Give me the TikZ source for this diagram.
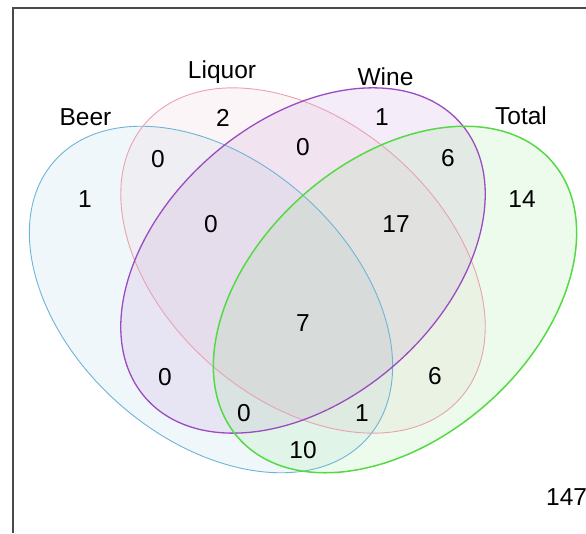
\documentclass[tikz,border=0pt]{standalone}
\usepackage{fontspec}
\setmainfont{Liberation Sans}
\definecolor{beerc}{HTML}{6FB4D6}
\definecolor{liqc}{HTML}{E8A3B2}
\definecolor{winec}{HTML}{9A4CC0}
\definecolor{totc}{HTML}{55DA45}
\definecolor{framec}{HTML}{4A4A4A}
\tikzset{
  venntext/.style={inner sep=0pt, font=\fontsize{24.5}{29}\selectfont, text=black},
  setlabel/.style={venntext, anchor=base},
  fillset/.style={fill=#1, fill opacity=0.1, draw=none},
  lineset/.style={draw=#1, line width=1.1pt},
  frameline/.style={draw=framec, line width=2pt}
}
\begin{document}
\begin{tikzpicture}[x=1pt,y=1pt]
\useasboundingbox (0,0) rectangle (586,533);
\fill[white] (0,0) rectangle (586,533);
\coordinate (fb) at (12.5,0);
\coordinate (fc) at (12.5,524.5);
\coordinate (fr) at (586,524.5);
\draw[frameline] (fb) -- (fc) -- (fr);
% centres
\coordinate (cb) at (211,233.5);
\coordinate (ct) at (395,233.5);
\coordinate (cm) at (303,272.5);
% fills
\fill[fillset=beerc, rotate around={-41.5:(cb)}] (cb) ellipse [x radius=209, y radius=139];
\fill[fillset=liqc, rotate around={-41:(cm)}] (cm) ellipse [x radius=209, y radius=139];
\fill[fillset=winec, rotate around={41:(cm)}] (cm) ellipse [x radius=209, y radius=139];
\fill[fillset=totc, rotate around={41.5:(ct)}] (ct) ellipse [x radius=209, y radius=139];
% outlines
\draw[lineset=beerc, line width=0.9pt, rotate around={-41.5:(cb)}] (cb) ellipse [x radius=209, y radius=139];
\draw[lineset=liqc, line width=0.9pt, rotate around={-41:(cm)}] (cm) ellipse [x radius=209, y radius=139];
\draw[lineset=winec, line width=1.3pt, rotate around={41:(cm)}] (cm) ellipse [x radius=209, y radius=139];
\draw[lineset=totc, line width=1.5pt, rotate around={41.5:(ct)}] (ct) ellipse [x radius=209, y radius=139];
% set labels
\node[setlabel] (lbeer) at (85.5,407) {Beer};
\node[setlabel] (lliq) at (222,454) {Liquor};
\node[setlabel] (lwine) at (385.5,447) {Wine};
\node[setlabel] (ltot) at (521,408) {Total};
% counts
\node[venntext] (n1) at (85,334) {1};
\node[venntext] (n2) at (223,415) {2};
\node[venntext] (n3) at (382,416) {1};
\node[venntext] (n4) at (522,334) {14};
\node[venntext] (n5) at (158,374) {0};
\node[venntext] (n6) at (303,386) {0};
\node[venntext] (n7) at (448,375) {6};
\node[venntext] (n8) at (211,309) {0};
\node[venntext] (n9) at (396,309) {17};
\node[venntext] (n10) at (303,210) {7};
\node[venntext] (n11) at (165,156) {0};
\node[venntext] (n12) at (435,157) {6};
\node[venntext] (n13) at (244,120) {0};
\node[venntext] (n14) at (362,120) {1};
\node[venntext] (n15) at (303,83) {10};
\node[venntext, anchor=west] (n16) at (546,36) {147};
\end{tikzpicture}
\end{document}
